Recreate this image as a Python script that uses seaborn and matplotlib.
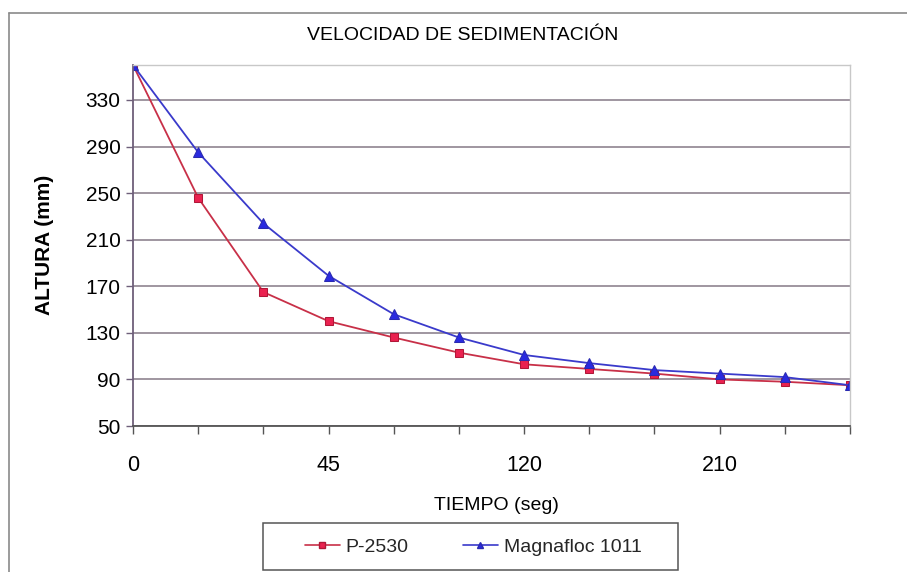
import numpy as np
import pandas as pd
import matplotlib
matplotlib.use("Agg")
import matplotlib.pyplot as plt
from matplotlib.patches import Rectangle
from matplotlib.lines import Line2D
import seaborn as sns

# Sampling times (s) and settled interface height (mm) for each flocculant
tiempo = ["0", "15", "30", "45", "60", "90", "120", "150", "180", "210", "240", "270"]
tick_labels = ["0", "", "", "45", "", "", "120", "", "", "210", "", ""]
p2530 = [360, 246, 165, 140, 126, 113, 103, 99, 95, 90, 88, 85]
magnafloc = [360, 285, 224, 179, 146, 126, 111, 104, 98, 95, 92, 85]
series_names = ["P-2530", "Magnafloc 1011"]
y_ticks = [50, 90, 130, 170, 210, 250, 290, 330]

sns.set_theme(style="white")
plt.rcParams["font.family"] = ["Liberation Sans", "DejaVu Sans"]

W, H = 907, 572
fig = plt.figure(figsize=(W / 100, H / 100), dpi=100)
fig.patch.set_facecolor("white")


def fx(px):
    return px / W


def fy(py):
    return 1 - py / H


ax = fig.add_axes([fx(133), fy(426), fx(850) - fx(133), fy(65) - fy(426)])

pos = np.arange(len(tiempo))
df = pd.DataFrame({
    "pos": np.concatenate([pos, pos]),
    "altura": p2530 + magnafloc,
    "serie": [series_names[0]] * len(tiempo) + [series_names[1]] * len(tiempo),
})

colors = {"P-2530": "#c83048", "Magnafloc 1011": "#3a3acb"}
sns.lineplot(data=df[df.serie == "P-2530"], x="pos", y="altura", ax=ax,
             color=colors["P-2530"], lw=1.3, marker="s", markersize=6,
             markerfacecolor="#ea2250", markeredgecolor="#b01838",
             sort=False, legend=False)
sns.lineplot(data=df[df.serie == "Magnafloc 1011"], x="pos", y="altura", ax=ax,
             color=colors["Magnafloc 1011"], lw=1.3, marker="^", markersize=7,
             markerfacecolor="#2a2ae0", markeredgecolor="#2a2ab0",
             sort=False, legend=False)

ax.set_xlim(0, len(tiempo) - 1)
ax.set_ylim(50, 360)
ax.set_yticks(y_ticks)
ax.set_xticks(pos)
ax.set_xticklabels(tick_labels)
ax.set_xlabel("")
ax.set_ylabel("")

ax.grid(axis="y", color="#8f8490", lw=1.2)
ax.grid(axis="x", visible=False)
ax.set_axisbelow(True)

ax.tick_params(axis="y", which="major", left=True, length=5, width=1,
               color="#6e5f7a", pad=4, labelsize=15, labelcolor="black")
ax.tick_params(axis="x", which="major", bottom=True, length=6, width=1,
               color="#555555", pad=15, labelsize=15.5, labelcolor="black")

for side in ("top", "right"):
    ax.spines[side].set_color("#c8c8c8")
    ax.spines[side].set_linewidth(1)
ax.spines["left"].set_color("#6e5f7a")
ax.spines["left"].set_linewidth(1.3)
ax.spines["bottom"].set_color("#555555")
ax.spines["bottom"].set_linewidth(1.3)

# Titles and axis captions
fig.text(fx(463), fy(35), "VELOCIDAD DE SEDIMENTACIÓN", ha="center", va="center",
         fontsize=14, color="black")
fig.text(fx(45), fy(245), "ALTURA (mm)", ha="center", va="center", rotation=90,
         fontsize=15, fontweight="bold", color="black")
fig.text(fx(496), fy(506), "TIEMPO (seg)", ha="center", va="center",
         fontsize=14, color="black")

# Chart area border
fig.add_artist(Line2D([fx(9), fx(9)], [0, fy(13)], transform=fig.transFigure,
                      color="#8a8a8a", lw=1.2))
fig.add_artist(Line2D([fx(9), 1], [fy(13), fy(13)], transform=fig.transFigure,
                      color="#8a8a8a", lw=1.2))

# Legend frame and entries
fig.add_artist(Rectangle((fx(263), fy(570)), fx(678) - fx(263), fy(523) - fy(570),
                         transform=fig.transFigure, facecolor="white",
                         edgecolor="#555555", lw=1.1))
handles = [
    Line2D([], [], color=colors["P-2530"], lw=1.2, marker="s", markersize=4.5,
           markerfacecolor="#ea2250", markeredgecolor="#b01838"),
    Line2D([], [], color=colors["Magnafloc 1011"], lw=1.2, marker="^", markersize=5,
           markerfacecolor="#2a2ae0", markeredgecolor="#2a2ab0"),
]
leg = fig.legend(handles, series_names, loc="center", ncol=2,
                 bbox_to_anchor=(fx(473), fy(547)), frameon=False,
                 fontsize=14, handlelength=1.8, handletextpad=0.3,
                 columnspacing=2.8, borderaxespad=0)

fig.savefig("out.png", dpi=100, facecolor="white")
